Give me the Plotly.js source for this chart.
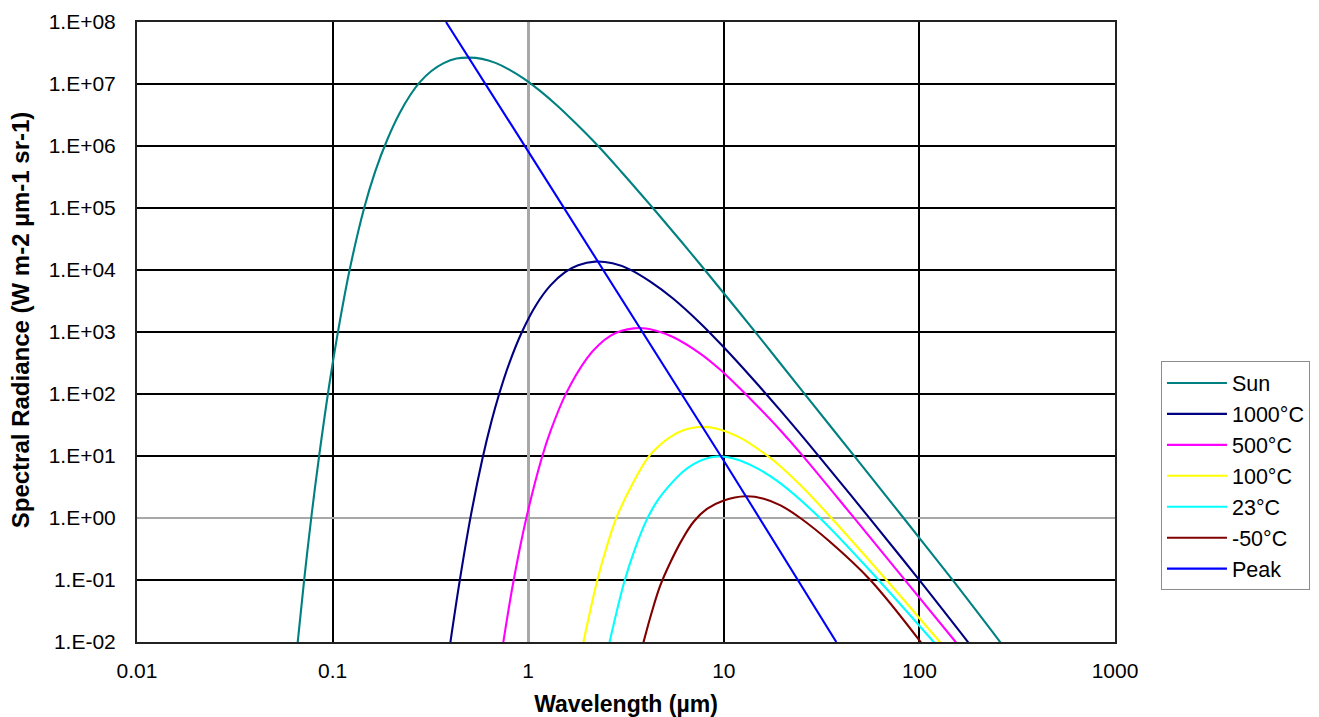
<!DOCTYPE html>
<html>
<head>
<meta charset="utf-8">
<script src="https://cdn.plot.ly/plotly-3.0.1.min.js"></script>
<style>html,body{margin:0;padding:0;background:#fff;}#chart{width:1319px;height:717px;}</style>
</head>
<body>
<div id="chart"></div>
<script>
// Wavelength (µm) and spectral radiance values read (estimated) from the reference chart
const sunX = [0.0661, 0.0714, 0.0782, 0.0853, 0.0963, 0.1059, 0.122, 0.145, 0.165, 0.19, 0.22, 0.25, 0.28, 0.32, 0.37, 0.43, 0.5, 0.58, 0.68, 0.8, 0.95, 1.15, 1.4, 1.75, 2.29, 3.0, 4.29, 6.0, 8.04, 14.5, 25.4, 46.5, 83.2, 147, 260];
const sunY = [0.009, 0.0945, 1.16, 9.9, 145, 905, 9.8e3, 1.0e5, 3.87e5, 1.25e6, 3.37e6, 6.7e6, 1.08e7, 1.62e7, 2.17e7, 2.57e7, 2.66e7, 2.54e7, 2.19e7, 1.71e7, 1.22e7, 7.75e6, 4.54e6, 2.32e6, 9.8e5, 3.81e5, 1.04e5, 2.99e4, 9.8e3, 996, 108, 9.95, 0.99, 0.102, 0.0098];

const c1000X = [0.4, 0.445, 0.509, 0.583, 0.65, 0.711, 0.8, 0.929, 1.1, 1.3, 1.55, 1.8, 2.2, 2.7, 3.3, 4.21, 5.5, 7.58, 10, 14, 19.5, 30.5, 55.7, 100, 178];
const c1000Y = [0.0098, 0.0906, 1.09, 8.94, 36.9, 101, 313, 1002, 2754, 5643, 9342, 1.197e4, 1.366e4, 1.281e4, 1.025e4, 6.5e3, 3475, 1389, 568, 178, 53.8, 10.06, 0.985, 0.0995, 0.0098];

const c500X = [0.746, 0.836, 0.977, 1.175, 1.3, 1.56, 2.0, 2.3, 2.63, 3.0, 3.46, 4.0, 4.5, 5.5, 7.58, 9.5, 12.1, 15.5, 19.5, 25.6, 45.8, 83.2, 154];
const c500Y = [0.0099, 0.0863, 0.98, 9.46, 25.2, 101.5, 379, 622, 865, 1043, 1145, 1141, 1048, 831, 449, 253, 123, 55.6, 25.8, 9.7, 1.05, 0.105, 0.0098];

const c100X = [1.915, 2.25, 2.5, 2.82, 3.4, 4.12, 4.7, 5.32, 6.3, 7.43, 9, 12.1, 16.9, 19.5, 25, 35.1, 67, 128];
const c100Y = [0.0099, 0.0963, 0.316, 0.995, 3.47, 9.64, 14.9, 20.2, 26.4, 29.4, 28.1, 19.8, 9.83, 6.78, 3.25, 1.04, 0.105, 0.0098];

const c23X = [2.605, 3.10, 3.5, 4.01, 4.6, 5.32, 6.2, 7.01, 8.0, 9.23, 10.5, 12.1, 15, 19.5, 30.9, 60.8, 119];
const c23Y = [0.0099, 0.0935, 0.306, 0.90, 1.94, 3.45, 5.63, 7.41, 8.96, 9.79, 9.57, 8.43, 6.2, 3.62, 1.01, 0.106, 0.0098];

const cm50X = [3.885, 4.3, 4.73, 5.32, 6.1, 7.01, 8.2, 10, 12.9, 16, 19.5, 24.6, 35, 56.1, 102];
const cm50Y = [0.0099, 0.0316, 0.081, 0.19, 0.44, 0.87, 1.40, 1.92, 2.24, 2.05, 1.6, 1.0, 0.41, 0.1, 0.0098];

const peakX = [0.38, 1, 10, 37.6];
const peakY = [1e8, 8.2e5, 8.4, 0.01];

const seriesNames = ['Sun', '1000°C', '500°C', '100°C', '23°C', '-50°C', 'Peak'];
const seriesColors = ['#008080', '#000080', '#FF00FF', '#FFFF00', '#00FFFF', '#800000', '#0000FF'];

const xTickVals = [0.01, 0.1, 1, 10, 100, 1000];
const xTickText = ['0.01', '0.1', '1', '10', '100', '1000'];
const yTickVals = [1e-2, 1e-1, 1e0, 1e1, 1e2, 1e3, 1e4, 1e5, 1e6, 1e7, 1e8];
const yTickText = ['1.E-02', '1.E-01', '1.E+00', '1.E+01', '1.E+02', '1.E+03', '1.E+04', '1.E+05', '1.E+06', '1.E+07', '1.E+08'];
const lightGridX = [1];
const lightGridY = [1];
const xTitle = 'Wavelength (µm)';
const yTitle = 'Spectral Radiance (W m-2 µm-1 sr-1)';

const xs = [sunX, c1000X, c500X, c100X, c23X, cm50X, peakX];
const ys = [sunY, c1000Y, c500Y, c100Y, c23Y, cm50Y, peakY];

const traces = seriesNames.map((n, i) => ({
  type: 'scatter', mode: 'lines', name: n, legendgroup: 'g' + i,
  x: xs[i], y: ys[i],
  line: {color: seriesColors[i], width: 2.1, shape: n === 'Peak' ? 'linear' : 'spline', smoothing: 1},
  hoverinfo: 'x+y+name'
}));
// empty helper traces so the overlay axes (light grid lines at 1) get drawn
traces.push({type: 'scatter', mode: 'lines', x: [], y: [], xaxis: 'x2', yaxis: 'y', showlegend: false, hoverinfo: 'skip'});
traces.push({type: 'scatter', mode: 'lines', x: [], y: [], xaxis: 'x', yaxis: 'y2', showlegend: false, hoverinfo: 'skip'});

const FONT = 'Liberation Sans, Arial, Helvetica, sans-serif';
const LIGHT = '#a8a8a8';

const layout = {
  width: 1319, height: 717,
  margin: {l: 137, r: 204, t: 22, b: 75, pad: 0, autoexpand: false},
  paper_bgcolor: '#fff', plot_bgcolor: '#fff',
  font: {family: FONT, size: 21, color: '#000'},
  showlegend: true,
  xaxis: {
    type: 'log', range: [-2, 3], tickvals: xTickVals, ticktext: xTickText,
    showgrid: true, gridcolor: '#000', gridwidth: 2,
    showline: true, mirror: true, linecolor: '#222', linewidth: 2,
    ticks: '', zeroline: false, ticklabelstandoff: 9,
    tickfont: {family: FONT, size: 21, color: '#000'},
    title: {text: '<b>' + xTitle + '</b>', font: {family: FONT, size: 23, color: '#000'}, standoff: 22}
  },
  yaxis: {
    type: 'log', range: [-2, 8], tickvals: yTickVals, ticktext: yTickText,
    showgrid: true, gridcolor: '#000', gridwidth: 2,
    showline: true, mirror: true, linecolor: '#222', linewidth: 2,
    ticks: '', zeroline: false, ticklabelstandoff: 15,
    tickfont: {family: FONT, size: 21, color: '#000'}
  },
  xaxis2: {
    type: 'log', range: [-2, 3], overlaying: 'x', anchor: 'y', tickvals: lightGridX,
    showgrid: true, gridcolor: LIGHT, gridwidth: 2.6, showticklabels: false,
    ticks: '', showline: false, zeroline: false
  },
  yaxis2: {
    type: 'log', range: [-2, 8], overlaying: 'y', anchor: 'x', tickvals: lightGridY,
    showgrid: true, gridcolor: LIGHT, gridwidth: 2.6, showticklabels: false,
    ticks: '', showline: false, zeroline: false
  },
  annotations: [{
    text: '<b>' + yTitle + '</b>', xref: 'paper', yref: 'paper',
    x: -0.1196, y: 0.519, xanchor: 'center', yanchor: 'middle', textangle: -90,
    showarrow: false, font: {family: FONT, size: 24, color: '#000'}
  }],
  legend: {
    x: 1.047, y: 0.4525, xanchor: 'left', yanchor: 'top',
    bordercolor: '#8c8c8c', borderwidth: 1, bgcolor: '#fff',
    font: {family: FONT, size: 21.5, color: '#000'},
    tracegroupgap: 0, itemwidth: 60, traceorder: 'normal'
  }
};

Plotly.newPlot('chart', traces, layout, {staticPlot: true, displayModeBar: false});
</script>
</body>
</html>
